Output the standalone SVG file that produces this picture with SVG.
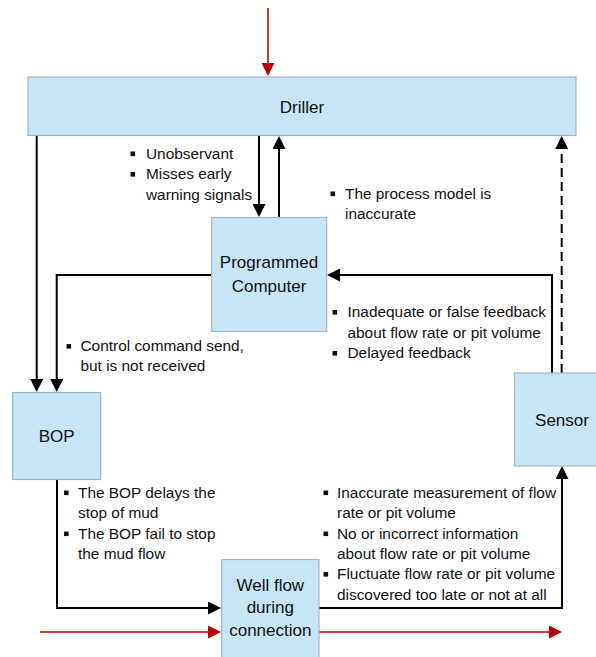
<svg xmlns="http://www.w3.org/2000/svg" width="596" height="657" viewBox="0 0 596 657">
  <style>
    .box { fill: #c6e5f7; stroke: #a3b6c3; stroke-width: 1.2; }
    .lbl { font-family: "Liberation Sans", Arial, sans-serif; font-size: 17px; fill: #111; text-anchor: middle; }
    .note { font-family: "Liberation Sans", Arial, sans-serif; font-size: 15.4px; fill: #111; }
    .bul { fill: #111; }
    .ctl { fill: none; stroke: #000; stroke-width: 2; marker-end: url(#ah); }
    .fb { fill: none; stroke: #000; stroke-width: 2; marker-end: url(#ah); }
    .dash { stroke-dasharray: 9 5; }
    .flow { fill: none; stroke: #c00000; stroke-width: 1.6; marker-end: url(#ahr); }
  </style>
  <defs>
    <marker id="ah" viewBox="0 0 13 13" refX="9" refY="6.5" markerWidth="13" markerHeight="13" markerUnits="userSpaceOnUse" orient="auto">
      <path d="M0,0 L13,6.5 L0,13 Z" fill="#000"/>
    </marker>
    <marker id="ahr" viewBox="0 0 13 13" refX="9" refY="6.5" markerWidth="13" markerHeight="13" markerUnits="userSpaceOnUse" orient="auto">
      <path d="M0,0 L13,6.5 L0,13 Z" fill="#c00000"/>
    </marker>
  </defs>

  <rect width="596" height="657" fill="#fff"/>

  <!-- connectors -->
  <g id="connectors">
    <!-- external flow in/out -->
    <path class="flow" d="M268,8 V72"/>
    <path class="flow" d="M40,632 H217"/>
    <path class="flow" d="M319,632 H558"/>
    <!-- driller <-> programmed computer -->
    <path class="ctl" d="M259,136 V213"/>
    <path class="fb" d="M279,217 V140"/>
    <!-- driller -> BOP -->
    <path class="ctl" d="M36.7,136 V388"/>
    <!-- computer -> BOP -->
    <path class="ctl" d="M211.7,275 H56.7 V388"/>
    <!-- sensor -> computer -->
    <path class="fb" d="M552,373 V275 H331"/>
    <!-- sensor -> driller (dashed) -->
    <path class="fb dash" d="M561.7,373 V140"/>
    <!-- BOP -> well flow -->
    <path class="ctl" d="M57,480 V608 H217"/>
    <!-- well flow -> sensor -->
    <path class="fb" d="M319,608 H562 V470"/>
  </g>

  <!-- nodes -->
  <g id="driller">
    <rect class="box" x="28" y="77" width="548" height="58.5"/>
    <text class="lbl" x="302" y="112.5">Driller</text>
  </g>
  <g id="computer">
    <rect class="box" x="211.7" y="217.5" width="115" height="114"/>
    <text class="lbl" x="269" y="268">Programmed</text>
    <text class="lbl" x="269" y="292">Computer</text>
  </g>
  <g id="bop">
    <rect class="box" x="12.7" y="392.5" width="88" height="87"/>
    <text class="lbl" x="56.7" y="442">BOP</text>
  </g>
  <g id="sensor">
    <rect class="box" x="514.5" y="373" width="106" height="93"/>
    <text class="lbl" x="562" y="425.5">Sensor</text>
  </g>
  <g id="wellflow">
    <rect class="box" x="221.7" y="559.5" width="97.3" height="102"/>
    <text class="lbl" x="270.3" y="591">Well flow</text>
    <text class="lbl" x="270.3" y="613">during</text>
    <text class="lbl" x="270.3" y="636">connection</text>
  </g>

  <!-- annotations -->
  <g id="notes">
    <rect class="bul" x="130.5" y="151.5" width="4.6" height="4.6"/>
    <text class="note" x="146" y="158.5">Unobservant</text>
    <rect class="bul" x="130.5" y="172" width="4.6" height="4.6"/>
    <text class="note" x="146" y="179">Misses early</text>
    <text class="note" x="146" y="199.5">warning signals</text>

    <rect class="bul" x="330.5" y="191.5" width="4.6" height="4.6"/>
    <text class="note" x="345" y="198.5">The process model is</text>
    <text class="note" x="345" y="219">inaccurate</text>

    <rect class="bul" x="332.5" y="310" width="4.6" height="4.6"/>
    <text class="note" x="347.5" y="317">Inadequate or false feedback</text>
    <text class="note" x="347.5" y="337.5">about flow rate or pit volume</text>
    <rect class="bul" x="332.5" y="351" width="4.6" height="4.6"/>
    <text class="note" x="347.5" y="358">Delayed feedback</text>

    <rect class="bul" x="66.5" y="344" width="4.6" height="4.6"/>
    <text class="note" x="80.5" y="351">Control command send,</text>
    <text class="note" x="80.5" y="371">but is not received</text>

    <rect class="bul" x="64" y="490.5" width="4.6" height="4.6"/>
    <text class="note" x="78" y="497.5">The BOP delays the</text>
    <text class="note" x="78" y="518">stop of mud</text>
    <rect class="bul" x="64" y="531.5" width="4.6" height="4.6"/>
    <text class="note" x="78" y="538.5">The BOP fail to stop</text>
    <text class="note" x="78" y="559">the mud flow</text>

    <rect class="bul" x="323.5" y="490.5" width="4.6" height="4.6"/>
    <text class="note" x="337" y="497.5">Inaccurate measurement of flow</text>
    <text class="note" x="337" y="518">rate or pit volume</text>
    <rect class="bul" x="323.5" y="531.5" width="4.6" height="4.6"/>
    <text class="note" x="337" y="538.5">No or incorrect information</text>
    <text class="note" x="337" y="559">about flow rate or pit volume</text>
    <rect class="bul" x="323.5" y="572" width="4.6" height="4.6"/>
    <text class="note" x="337" y="579">Fluctuate flow rate or pit volume</text>
    <text class="note" x="337" y="599.5">discovered too late or not at all</text>
  </g>
</svg>
